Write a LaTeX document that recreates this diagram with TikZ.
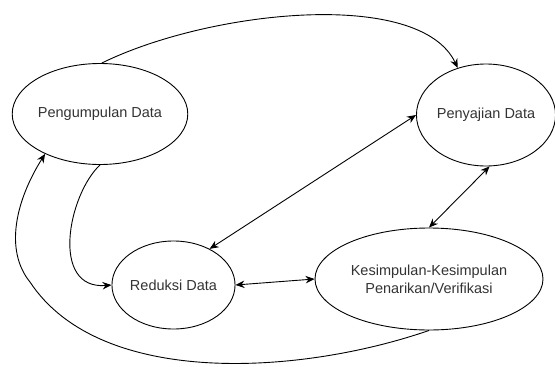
\documentclass[tikz,border=0pt]{standalone}
\usepackage{fontspec}
\setmainfont{Liberation Sans}
\usetikzlibrary{shapes.geometric,arrows.meta}
\definecolor{txt}{HTML}{333333}
\tikzset{
  stage/.style={ellipse, draw=black, line width=0.9pt, inner sep=0pt, text=txt,
    font=\fontsize{14.5}{18}\selectfont, align=center},
  link/.style={draw=black, line width=0.9pt},
  tip/.style={-{Stealth[length=9pt,width=7.5pt]}},
  tips/.style={{Stealth[length=9pt,width=7.5pt]}-{Stealth[length=9pt,width=7.5pt]}}
}
\begin{document}
\begin{tikzpicture}[x=1pt,y=-1pt]
\useasboundingbox (0,0) rectangle (555,367);
\node[stage, minimum width=146pt, minimum height=101pt] (P) at (100,114) {Pengumpulan Data};
\node[stage, minimum width=138pt, minimum height=102pt] (S) at (486,115) {Penyajian Data};
\node[stage, minimum width=123pt, minimum height=88pt] (R) at (173.5,285) {Reduksi Data};
\node[stage, minimum width=228pt, minimum height=102pt] (K) at (429,279) {Kesimpulan-Kesimpulan\\Penarikan/Verifikasi};
\coordinate (turn) at (30,282);
% top curve
\draw[link,tip] (P.88) .. controls (210,10) and (420,-12) .. (S.121);
% Pengumpulan -> Reduksi
\draw[link,tip] (P.south) .. controls (68,195) and (50,290) .. (R.west);
% Reduksi <-> Penyajian
\draw[link,tips] (R.45) -- (S.west);
% Penyajian <-> Kesimpulan
\draw[link,tips] (K.north) -- (S.-86);
% Reduksi <-> Kesimpulan
\draw[link,tips] (R.east) -- (K.west);
% loop Kesimpulan -> Pengumpulan
\draw[link,tip] (K.south) .. controls (300,375) and (100,388) .. (turn)
  .. controls (4,250) and (16,200) .. (P.216);
\end{tikzpicture}
\end{document}
